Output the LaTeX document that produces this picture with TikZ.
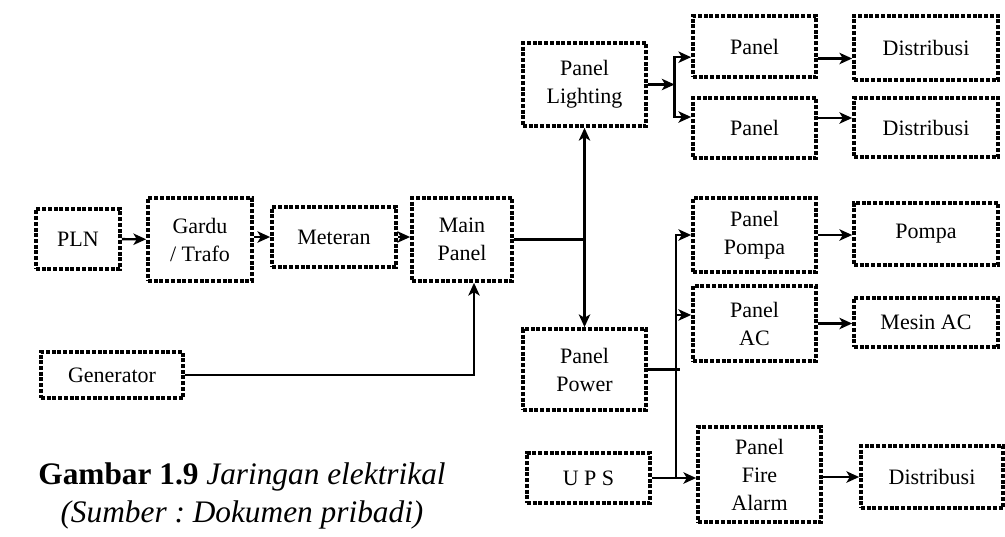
\documentclass[tikz,border=0pt]{standalone}
\usepackage{fontspec}
\setmainfont{Liberation Serif}
\usetikzlibrary{arrows.meta}
\begin{document}
\begin{tikzpicture}[x=0.75pt,y=-0.75pt,
    panelbox/.style={draw,line width=2.8pt,dash pattern=on 3pt off 1.3pt,
      inner sep=0pt,align=center,font={\fontsize{16.5}{21}\selectfont}},
    >={Stealth[length=9.5pt,width=8.5pt,inset=2.5pt]}]
  \useasboundingbox (0,0) rectangle (1005,536);
  \draw
    (78,239) node[panelbox,minimum width=63pt,minimum height=45pt] (pln){PLN}
    (200,239.5) node[panelbox,minimum width=78pt,minimum height=62.25pt] (trafo){Gardu\\/ Trafo}
    (334,237) node[panelbox,minimum width=93pt,minimum height=45pt] (meter){Meteran}
    (462,239.5) node[panelbox,minimum width=75pt,minimum height=62.25pt] (main){Main\\Panel}
    (112,375) node[panelbox,minimum width=106.5pt,minimum height=34.5pt] (gen){Generator}
    (584.5,84.5) node[panelbox,minimum width=92.25pt,minimum height=62.25pt] (light){Panel\\Lighting}
    (754.5,46.5) node[panelbox,minimum width=92.25pt,minimum height=45.75pt] (pan1){Panel}
    (754.5,128) node[panelbox,minimum width=92.25pt,minimum height=45pt] (pan2){Panel}
    (926,48) node[panelbox,minimum width=108pt,minimum height=48pt] (dist1){Distribusi}
    (926,127.5) node[panelbox,minimum width=108pt,minimum height=44.25pt] (dist2){Distribusi}
    (754.5,235) node[panelbox,minimum width=92.25pt,minimum height=55.5pt] (ppompa){Panel\\Pompa}
    (926,234) node[panelbox,minimum width=108pt,minimum height=46.5pt] (pompa){Pompa}
    (754.5,323.5) node[panelbox,minimum width=92.25pt,minimum height=56.25pt] (pac){Panel\\AC}
    (926,322.5) node[panelbox,minimum width=108pt,minimum height=36.75pt] (mesin){Mesin AC}
    (584.5,369.5) node[panelbox,minimum width=92.25pt,minimum height=60.75pt] (power){Panel\\Power}
    (588.5,478) node[panelbox,minimum width=92.25pt,minimum height=37.5pt] (ups){U P S}
    (759.5,474.5) node[panelbox,minimum width=92.25pt,minimum height=71.25pt] (fire){Panel\\Fire\\Alarm}
    (932,477) node[panelbox,minimum width=106.5pt,minimum height=46.5pt] (dist3){Distribusi};
  \node[align=center,font={\fontsize{23.5}{28.5}\selectfont\frenchspacing}] (cap) at (242,496)
    {\textbf{Gambar 1.9} \textit{Jaringan elektrikal}\\\textit{(Sumber : Dokumen pribadi)}};
  \coordinate (fk1) at (light.south |- main.east);
  \coordinate (fk2) at ([xshift=20pt]light.east);
  \coordinate (bus) at ([xshift=18pt]ups.east);
  \begin{scope}[->,line width=1.8pt]
    \draw (pln) -- (trafo);
    \draw (trafo.east |- meter) -- (meter);
    \draw (meter) -- (meter -| main.west);
    \draw[-] (main.east) -- (fk1);
    \draw (fk1) -- (light);
    \draw (fk1) -- (power);
    \draw (gen) -| ([xshift=9pt]main.south);
    \draw (light) -- (fk2);
    \draw (fk2) |- ([yshift=-8pt]pan1.west);
    \draw (fk2) |- ([yshift=8.25pt]pan2.west);
    \draw ([yshift=-9pt]pan1.east) -- ([yshift=-9pt]pan1.east -| dist1.west);
    \draw ([yshift=7.5pt]pan2.east) -- ([yshift=7.5pt]pan2.east -| dist2.west);
    \draw (bus) |- (ppompa);
    \draw ([yshift=6.4pt]bus |- pac.west) -- ([yshift=6.4pt]pac.west);
    \draw[-] (power.east) -- ([xshift=3pt]bus |- power.east);
    \draw (ups) -- (ups -| fire.west);
    \draw (ppompa) -- (ppompa -| pompa.west);
    \draw (pac) -- (pac -| mesin.west);
    \draw (fire.east |- dist3) -- (dist3);
  \end{scope}
\end{tikzpicture}
\end{document}
